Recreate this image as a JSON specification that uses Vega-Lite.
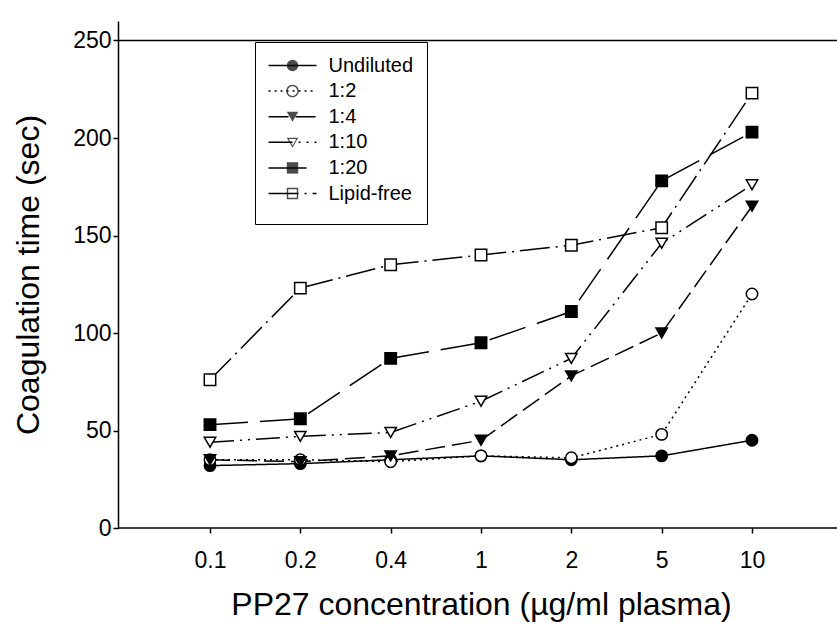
{
  "$schema": "https://vega.github.io/schema/vega-lite/v6.json",
  "width": 719,
  "height": 507,
  "autosize": "none",
  "padding": {"left": 118, "top": 21, "right": 0, "bottom": 104},
  "config": {
    "view": {"stroke": null},
    "font": "Liberation Sans",
    "axis": {
      "labelFont": "Liberation Sans", "titleFont": "Liberation Sans",
      "labelFontSize": 23, "titleFontSize": 32, "titleFontWeight": "normal",
      "labelColor": "black", "titleColor": "black", "tickColor": "black", "domainColor": "black",
      "tickSize": 5, "tickWidth": 1.5, "domainWidth": 1.5, "grid": false
    },
    "axisX": {"domain": false, "labelAngle": 0, "labelPadding": 16, "titlePadding": 17},
    "axisY": {"labelPadding": 2, "titlePadding": 27}
  },
  "data": {"values": [
    {"conc": "0.1", "series": "Undiluted", "time": 32},
    {"conc": "0.2", "series": "Undiluted", "time": 33},
    {"conc": "0.4", "series": "Undiluted", "time": 35},
    {"conc": "1", "series": "Undiluted", "time": 37},
    {"conc": "2", "series": "Undiluted", "time": 35},
    {"conc": "5", "series": "Undiluted", "time": 37},
    {"conc": "10", "series": "Undiluted", "time": 45},
    {"conc": "0.1", "series": "1:2", "time": 35},
    {"conc": "0.2", "series": "1:2", "time": 35},
    {"conc": "0.4", "series": "1:2", "time": 34},
    {"conc": "1", "series": "1:2", "time": 37},
    {"conc": "2", "series": "1:2", "time": 36},
    {"conc": "5", "series": "1:2", "time": 48},
    {"conc": "10", "series": "1:2", "time": 120},
    {"conc": "0.1", "series": "1:4", "time": 35},
    {"conc": "0.2", "series": "1:4", "time": 34},
    {"conc": "0.4", "series": "1:4", "time": 37},
    {"conc": "1", "series": "1:4", "time": 45},
    {"conc": "2", "series": "1:4", "time": 78},
    {"conc": "5", "series": "1:4", "time": 100},
    {"conc": "10", "series": "1:4", "time": 165},
    {"conc": "0.1", "series": "1:10", "time": 44},
    {"conc": "0.2", "series": "1:10", "time": 47},
    {"conc": "0.4", "series": "1:10", "time": 49},
    {"conc": "1", "series": "1:10", "time": 65},
    {"conc": "2", "series": "1:10", "time": 87},
    {"conc": "5", "series": "1:10", "time": 146},
    {"conc": "10", "series": "1:10", "time": 176},
    {"conc": "0.1", "series": "1:20", "time": 53},
    {"conc": "0.2", "series": "1:20", "time": 56},
    {"conc": "0.4", "series": "1:20", "time": 87},
    {"conc": "1", "series": "1:20", "time": 95},
    {"conc": "2", "series": "1:20", "time": 111},
    {"conc": "5", "series": "1:20", "time": 178},
    {"conc": "10", "series": "1:20", "time": 203},
    {"conc": "0.1", "series": "Lipid-free", "time": 76},
    {"conc": "0.2", "series": "Lipid-free", "time": 123},
    {"conc": "0.4", "series": "Lipid-free", "time": 135},
    {"conc": "1", "series": "Lipid-free", "time": 140},
    {"conc": "2", "series": "Lipid-free", "time": 145},
    {"conc": "5", "series": "Lipid-free", "time": 154},
    {"conc": "10", "series": "Lipid-free", "time": 223}
  ]},
  "resolve": {"scale": {"shape": "independent"}},
  "layer": [
    {
      "data": {"values": [{}]},
      "mark": {"type": "rule", "color": "black", "strokeWidth": 1.5},
      "encoding": {"y": {"datum": 0, "type": "quantitative", "title": "Coagulation time (sec)"}}
    },
    {
      "data": {"values": [{}]},
      "mark": {"type": "rule", "color": "black", "strokeWidth": 1.5},
      "encoding": {"y": {"datum": 250, "type": "quantitative", "title": "Coagulation time (sec)"}}
    },
    {
      "mark": {"type": "line", "color": "black", "strokeWidth": 1.5},
      "encoding": {
        "x": {"field": "conc", "type": "ordinal", "sort": ["0.1", "0.2", "0.4", "1", "2", "5", "10"],
              "scale": {"type": "point", "range": [92, 634], "padding": 0},
              "title": "PP27 concentration (µg/ml plasma)"},
        "y": {"field": "time", "type": "quantitative", "scale": {"domain": [0, 250]},
              "axis": {"values": [0, 50, 100, 150, 200, 250]},
              "title": "Coagulation time (sec)"},
        "strokeDash": {
          "field": "series", "type": "nominal",
          "scale": {
            "domain": ["Lipid-free", "1:20", "1:10", "1:4", "1:2", "Undiluted"],
            "range": [[30, 6, 2, 6], [38, 12], [24, 6, 2, 6, 2, 6], [20, 7], [2, 4], [1, 0]]
          },
          "legend": {
            "title": " ", "titleOrient": "bottom", "titleFontSize": 5, "titlePadding": 2,
            "orient": "none", "legendX": 137, "legendY": 21,
            "values": ["Undiluted", "1:2", "1:4", "1:10", "1:20", "Lipid-free"],
            "symbolType": "M-4.2,0H4.2", "symbolSize": 130, "symbolStrokeWidth": 1.5,
            "symbolStrokeColor": "black", "symbolOffset": 14,
            "labelFont": "Liberation Sans", "labelFontSize": 20, "labelColor": "black",
            "labelOffset": 26, "rowPadding": 5.6, "padding": 13.5,
            "strokeColor": "black", "zindex": 1
          }
        }
      }
    },
    {
      "mark": {"type": "point", "filled": false, "size": 130, "color": "black", "strokeWidth": 1.5, "opacity": 1},
      "encoding": {
        "x": {"field": "conc", "type": "ordinal", "sort": ["0.1", "0.2", "0.4", "1", "2", "5", "10"],
              "scale": {"type": "point", "range": [92, 634], "padding": 0},
              "title": "PP27 concentration (µg/ml plasma)"},
        "y": {"field": "time", "type": "quantitative", "scale": {"domain": [0, 250]},
              "axis": {"values": [0, 50, 100, 150, 200, 250]},
              "title": "Coagulation time (sec)"},
        "shape": {
          "field": "series", "type": "nominal",
          "scale": {
            "domain": ["Undiluted", "1:2", "1:4", "1:10", "1:20", "Lipid-free"],
            "range": ["circle", "circle", "triangle-down", "triangle-down", "square", "square"]
          },
          "legend": null
        },
        "fill": {
          "field": "series", "type": "nominal",
          "scale": {
            "domain": ["Undiluted", "1:2", "1:4", "1:10", "1:20", "Lipid-free"],
            "range": ["black", "white", "black", "white", "black", "white"]
          },
          "legend": null
        }
      }
    },
    {
      "mark": {"type": "point", "filled": true, "size": 0, "color": "black"},
      "encoding": {
        "x": {"field": "conc", "type": "ordinal", "sort": ["0.1", "0.2", "0.4", "1", "2", "5", "10"],
              "scale": {"type": "point", "range": [92, 634], "padding": 0},
              "title": "PP27 concentration (µg/ml plasma)"},
        "y": {"field": "time", "type": "quantitative", "scale": {"domain": [0, 250]},
              "axis": {"values": [0, 50, 100, 150, 200, 250]},
              "title": "Coagulation time (sec)"},
        "shape": {
          "field": "series", "type": "nominal",
          "scale": {
            "domain": ["Undiluted", "1:2", "1:4", "1:10", "1:20", "Lipid-free"],
            "range": [
              "circle",
              "M-1.1,0A1.1,1.1,0,1,1,1.1,0A1.1,1.1,0,1,1,-1.1,0ZM-0.85,0A0.85,0.85,0,1,0,0.85,0A0.85,0.85,0,1,0,-0.85,0Z",
              "triangle-down",
              "M-1,-0.8L1,-0.8L0,0.95ZM-0.66,-0.58L0,0.58L0.66,-0.58Z",
              "square",
              "M-1,-1H1V1H-1ZM-0.75,-0.75V0.75H0.75V-0.75Z"
            ]
          },
          "legend": {
            "title": null, "orient": "none", "legendX": 137, "legendY": 21,
            "symbolSize": 130, "symbolStrokeWidth": 1.5, "symbolOffset": 14,
            "symbolFillColor": "black",
            "labelFont": "Liberation Sans", "labelFontSize": 20, "labelOpacity": 0,
            "labelOffset": 26, "rowPadding": 5.6, "padding": 13.5, "zindex": 2
          }
        }
      }
    }
  ]
}
